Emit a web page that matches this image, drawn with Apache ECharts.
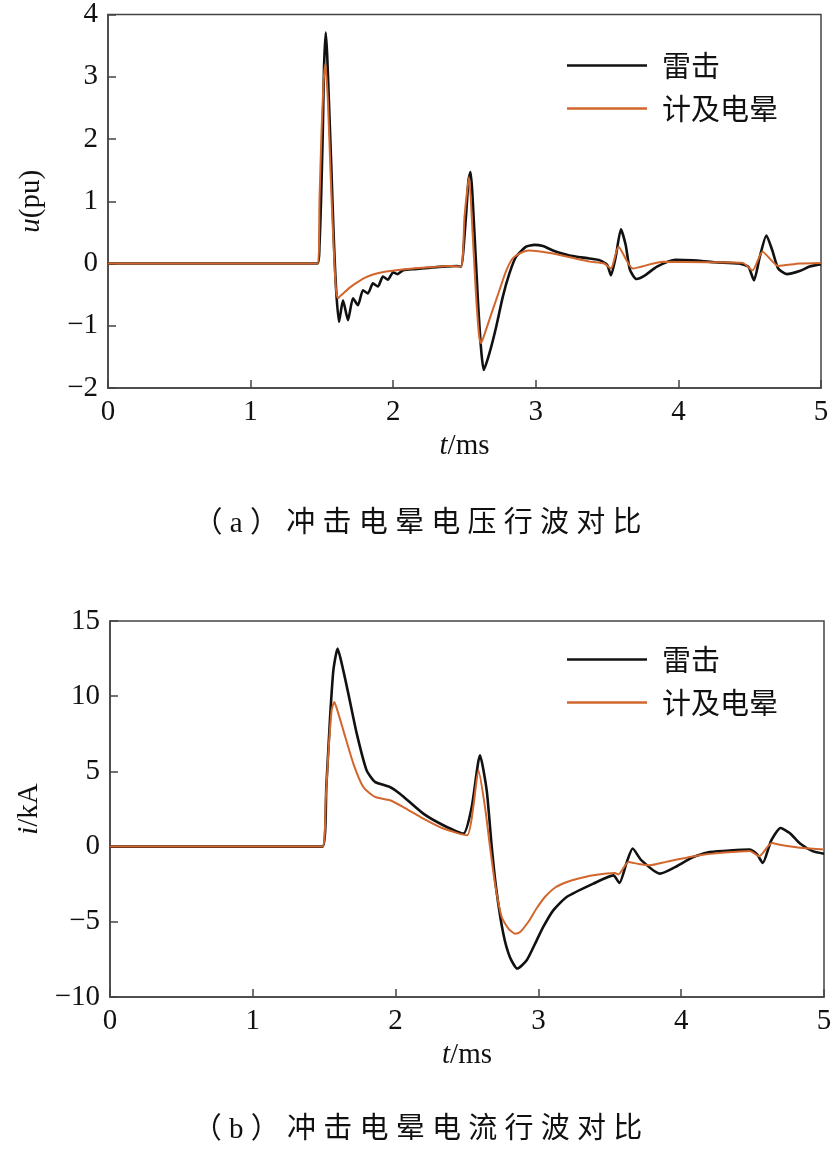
<!DOCTYPE html>
<html>
<head>
<meta charset="utf-8">
<script src="https://cdn.jsdelivr.net/npm/echarts@6/dist/echarts.min.js"></script>
<style>
html,body{margin:0;padding:0;background:#fff;}
#c{width:835px;height:1149px;}
</style>
</head>
<body>
<div id="c"></div>
<script>
// ---------- DATA ----------
var seriesNames = ['雷击', '计及电晕'];
var xTicks = [0, 1, 2, 3, 4, 5];

// (a) voltage u (pu) vs t (ms)
var tUL = [0, 1.47, 1.483, 1.494, 1.506, 1.515, 1.527, 1.537, 1.549, 1.566, 1.582, 1.600, 1.620, 1.648, 1.683, 1.718, 1.753, 1.788, 1.823, 1.858, 1.893, 1.928, 1.963, 2.000, 2.030, 2.07, 2.15, 2.25, 2.35, 2.45, 2.476, 2.51, 2.528, 2.542, 2.57, 2.594, 2.617, 2.635, 2.675, 2.722, 2.768, 2.815, 2.862, 2.932, 2.99, 3.05, 3.12, 3.235, 3.375, 3.45, 3.50, 3.527, 3.56, 3.597, 3.63, 3.66, 3.706, 3.76, 3.85, 3.98, 4.1, 4.25, 4.425, 4.49, 4.53, 4.57, 4.617, 4.66, 4.70, 4.76, 4.85, 4.92, 5.0];
var uLightning = [0, 0, 0.3, 1.02, 2.09, 3.16, 3.71, 3.35, 2.62, 1.55, 0.48, -0.43, -0.94, -0.59, -0.91, -0.56, -0.67, -0.43, -0.48, -0.32, -0.37, -0.21, -0.26, -0.14, -0.17, -0.11, -0.09, -0.07, -0.05, -0.04, -0.05, 0.75, 1.34, 1.47, 0.48, -0.59, -1.39, -1.71, -1.44, -1.02, -0.54, -0.16, 0.11, 0.27, 0.30, 0.28, 0.21, 0.13, 0.08, 0.05, -0.02, -0.19, 0.10, 0.55, 0.30, -0.10, -0.25, -0.20, -0.05, 0.06, 0.05, 0.02, 0.0, -0.05, -0.27, 0.10, 0.45, 0.20, -0.08, -0.17, -0.12, -0.05, -0.01];
var tUC = [0, 1.47, 1.483, 1.497, 1.511, 1.524, 1.542, 1.559, 1.578, 1.597, 1.612, 1.63, 1.65, 1.70, 1.75, 1.80, 1.87, 1.95, 2.05, 2.2, 2.4, 2.476, 2.50, 2.532, 2.557, 2.58, 2.603, 2.615, 2.65, 2.697, 2.745, 2.79, 2.837, 2.885, 2.95, 3.12, 3.375, 3.48, 3.527, 3.58, 3.68, 3.89, 4.2, 4.45, 4.52, 4.59, 4.70, 4.85, 5.0];
var uCorona = [0, 0, 1.02, 2.09, 2.89, 3.21, 2.62, 1.55, 0.48, -0.37, -0.56, -0.52, -0.48, -0.38, -0.30, -0.23, -0.17, -0.13, -0.10, -0.07, -0.04, -0.05, 0.75, 1.39, 0.48, -0.48, -1.18, -1.28, -1.07, -0.75, -0.43, -0.13, 0.08, 0.16, 0.21, 0.16, 0.03, 0.0, -0.08, 0.27, -0.08, 0.03, 0.02, 0.01, -0.11, 0.19, -0.04, 0.0, 0.01];

// (b) current i (kA) vs t (ms)
var tIL = [0, 1.487, 1.515, 1.54, 1.564, 1.594, 1.634, 1.669, 1.728, 1.797, 1.856, 1.96, 2.03, 2.194, 2.334, 2.474, 2.533, 2.591, 2.638, 2.673, 2.706, 2.754, 2.80, 2.852, 2.918, 2.988, 3.034, 3.104, 3.198, 3.385, 3.525, 3.567, 3.62, 3.66, 3.72, 3.852, 3.95, 4.085, 4.2, 4.48, 4.53, 4.571, 4.63, 4.696, 4.76, 4.832, 4.92, 5.0];
var iLightning = [0, 0, 4.0, 8.4, 11.7, 13.16, 11.7, 10.17, 7.51, 5.07, 4.30, 3.96, 3.52, 2.19, 1.42, 0.86, 2.63, 6.07, 3.74, 0.0, -2.9, -5.78, -7.34, -8.11, -7.56, -6.23, -5.34, -4.24, -3.35, -2.46, -1.91, -2.42, -1.0, -0.13, -0.9, -1.80, -1.4, -0.69, -0.36, -0.2, -0.5, -1.09, 0.4, 1.24, 0.9, 0.2, -0.3, -0.47];
var tIC = [0, 1.487, 1.51, 1.529, 1.552, 1.571, 1.599, 1.634, 1.704, 1.774, 1.856, 1.96, 2.054, 2.194, 2.334, 2.50, 2.544, 2.58, 2.626, 2.661, 2.696, 2.743, 2.79, 2.836, 2.87, 2.93, 2.988, 3.05, 3.12, 3.2, 3.268, 3.385, 3.536, 3.56, 3.63, 3.70, 3.78, 3.9, 4.13, 4.3, 4.48, 4.547, 4.634, 4.7, 4.85, 5.0];
var iCorona = [0, 0, 3.0, 6.2, 9.06, 9.61, 8.84, 7.73, 5.52, 3.96, 3.30, 3.08, 2.63, 1.86, 1.20, 0.75, 2.63, 5.07, 2.63, 0.0, -2.46, -4.68, -5.45, -5.79, -5.7, -5.0, -4.1, -3.3, -2.7, -2.35, -2.15, -1.91, -1.75, -1.85, -1.02, -1.15, -1.24, -1.0, -0.58, -0.4, -0.29, -0.64, 0.24, 0.1, -0.1, -0.2];

var captionA = '（a）冲击电晕电压行波对比';
var captionB = '（b）冲击电晕电流行波对比';

// ---------- BUILD ----------
function zip(t, v) { return t.map(function (x, k) { return [x, v[k]]; }); }
var SERIF = '"Liberation Serif", "Times New Roman", "Noto Sans CJK SC", serif';
var FS = 29;
function minusFmt(v) { return String(v).replace('-', '\u2212'); }
function spaced(s) { return s.split('').join(' '); }

function xAxisCfg(gi) {
  return {
    gridIndex: gi, type: 'value', min: 0, max: 5, interval: 1,
    name: '{it|t}/ms', nameLocation: 'middle', nameGap: 44,
    nameTextStyle: { fontFamily: SERIF, fontSize: FS, color: '#111', rich: { it: { fontFamily: SERIF, fontSize: FS, fontStyle: 'italic', color: '#111' } } },
    axisLine: { show: true, onZero: false, lineStyle: { color: '#444', width: 1.5 } },
    axisTick: { show: true, inside: true, length: 8, lineStyle: { color: '#444', width: 1.5 } },
    axisLabel: { fontFamily: SERIF, fontSize: FS, color: '#111', margin: 10, formatter: function (v) { return xTicks.indexOf(v) >= 0 ? String(v) : ''; } },
    splitLine: { show: false }
  };
}
function yAxisCfg(gi, min, max, interval, name) {
  return {
    gridIndex: gi, type: 'value', min: min, max: max, interval: interval,
    name: name, nameLocation: 'middle', nameGap: 62,
    nameTextStyle: { fontFamily: SERIF, fontSize: FS, color: '#111', rich: { it: { fontFamily: SERIF, fontSize: FS, fontStyle: 'italic', color: '#111' } } },
    axisLine: { show: true, onZero: false, lineStyle: { color: '#444', width: 1.5 } },
    axisTick: { show: true, inside: true, length: 8, lineStyle: { color: '#444', width: 1.5 } },
    axisLabel: { fontFamily: SERIF, fontSize: FS, color: '#111', margin: 10, formatter: minusFmt },
    splitLine: { show: false }
  };
}
function lineSeries(name, xi, data, color, width, z) {
  return {
    name: name, type: 'line', xAxisIndex: xi, yAxisIndex: xi, data: data,
    showSymbol: false, symbol: 'none', smooth: 0.2,
    lineStyle: { color: color, width: width }, itemStyle: { color: color }, z: z
  };
}
var BLACK = '#111111', ORANGE = '#d2662c';
function legendCfg(top) {
  return {
    orient: 'vertical', left: 562, top: top, itemWidth: 80, itemHeight: 2.5, itemGap: 14,
    icon: 'rect', data: seriesNames,
    textStyle: { fontFamily: '"Noto Sans CJK SC", sans-serif', fontSize: 29, color: '#111', padding: [0, 0, 0, 10] }
  };
}

var option = {
  animation: false,
  backgroundColor: '#fff',
  grid: [
    { left: 108, top: 14, width: 713, height: 374, show: true, borderColor: '#444', borderWidth: 1.5 },
    { left: 110, top: 621, width: 714, height: 376, show: true, borderColor: '#444', borderWidth: 1.5 }
  ],
  xAxis: [xAxisCfg(0), xAxisCfg(1)],
  yAxis: [yAxisCfg(0, -2, 4, 1, '{it|u}(pu)'), yAxisCfg(1, -10, 15, 5, '{it|i}/kA')],
  legend: [legendCfg(46), legendCfg(640)],
  series: [
    lineSeries(seriesNames[0], 0, zip(tUL, uLightning), BLACK, 2.6, 2),
    lineSeries(seriesNames[1], 0, zip(tUC, uCorona), ORANGE, 2, 3),
    lineSeries(seriesNames[0], 1, zip(tIL, iLightning), BLACK, 2.6, 2),
    lineSeries(seriesNames[1], 1, zip(tIC, iCorona), ORANGE, 2, 3)
  ],
  graphic: [
    { type: 'text', left: 'center', top: 510, style: { text: spaced(captionA), font: '29px ' + SERIF, fill: '#111' } },
    { type: 'text', left: 'center', top: 1116, style: { text: spaced(captionB), font: '29px ' + SERIF, fill: '#111' } }
  ]
};
var chart = echarts.init(document.getElementById('c'), null, { renderer: 'canvas' });
chart.setOption(option);
</script>
</body>
</html>
